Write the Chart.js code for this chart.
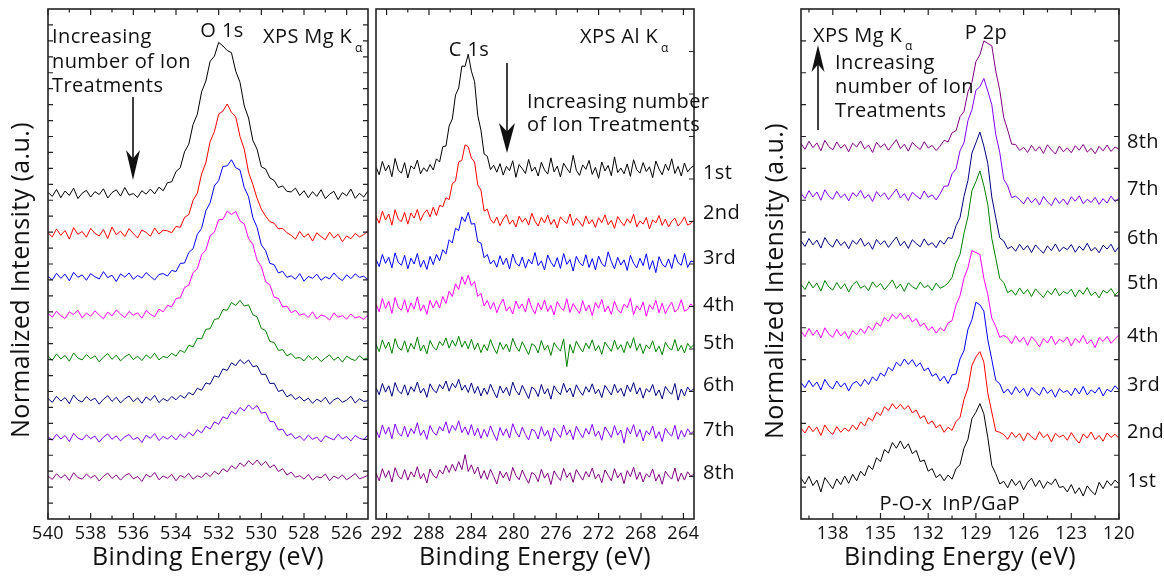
<!DOCTYPE html>
<html>
<head>
<meta charset="utf-8">
<title>XPS spectra after repeated ion treatments</title>
<script src="https://cdn.jsdelivr.net/npm/chart.js@4.4.1/dist/chart.umd.min.js"></script>
<style>
  html, body { margin: 0; padding: 0; background: #fff; }
  #wrap { position: relative; width: 1164px; height: 576px; }
  #wrap canvas { position: absolute; left: 0; top: 0; }
</style>
</head>
<body>
<div id="wrap">
  <canvas id="o1s" width="1164" height="576"></canvas>
  <canvas id="c1s" width="1164" height="576"></canvas>
  <canvas id="p2p" width="1164" height="576"></canvas>
</div>
<script>
// ---- scan grids (binding energy, eV) ----
const o1sStart = 540, o1sStep = 0.2;   // 76 points, 540 -> 525
const c1sStart = 293, c1sStep = 0.3;   // 101 points, 293 -> 263
const p2pStart = 140, p2pStep = 0.25;  // 81 points, 140 -> 120

const treatmentLabels = ['1st', '2nd', '3rd', '4th', '5th', '6th', '7th', '8th'];

// ---- O 1s (Mg Ka), offset spectra ----
const o1s1st = [10.25, 10.12, 10.34, 10.08, 10.29, 10.15, 10.38, 10.05, 10.22, 10.31, 10.10, 10.27, 10.18, 10.36, 10.07, 10.24, 10.33, 10.13, 10.40, 10.16, 10.21, 10.09, 10.30, 10.19, 10.35,
  10.20, 10.41, 10.30, 10.55, 10.58, 10.90, 11.02, 11.52, 11.76, 12.38, 12.70, 13.40, 13.74, 14.36, 14.52, 14.95, 14.84, 14.70, 14.63, 14.05, 13.70, 12.96, 12.58, 11.88, 11.60, 11.05, 10.98, 10.70, 10.62, 10.40, 10.45, 10.28, 10.26, 10.38, 10.15, 10.30,
  10.08, 10.27, 10.12, 10.33, 10.05, 10.19, 10.28, 10.02, 10.24, 10.14, 10.35, 10.06, 10.22, 10.10, 10.30];
const o1s2nd = [8.98, 8.85, 9.10, 8.90, 9.05, 8.78, 9.14, 8.93, 9.02, 8.84, 9.12, 8.96, 8.88, 9.08, 8.80, 9.16, 8.92, 9.03, 8.86, 9.11, 8.95, 8.82, 9.07, 8.99, 8.87, 9.13, 8.94, 9.06,
  9.04, 8.98, 9.18, 9.15, 9.46, 9.55, 10.00, 10.22, 10.83, 11.18, 11.84, 12.15, 12.70, 12.80, 13.02, 12.76, 12.62, 12.00, 11.60, 10.88, 10.50, 10.06, 9.72, 9.50, 9.33, 9.28, 9.10, 9.12, 8.98,
  8.90, 8.78, 9.02, 8.84, 8.95, 8.72, 8.98, 8.86, 8.76, 9.00, 8.82, 8.93, 8.70, 8.88, 8.79, 8.96, 8.85, 8.92, 9.05];
const o1s3rd = [7.62, 7.50, 7.71, 7.55, 7.68, 7.47, 7.74, 7.58, 7.66, 7.49, 7.70, 7.60, 7.53, 7.76, 7.57, 7.65, 7.45, 7.69, 7.59, 7.72, 7.52, 7.64, 7.56, 7.73, 7.61, 7.50, 7.67,
  7.70, 7.62, 7.80, 7.76, 8.02, 8.03, 8.36, 8.48, 8.93, 9.12, 9.67, 9.92, 10.45, 10.62, 11.06, 11.08, 11.27, 11.02, 10.95, 10.40, 10.11, 9.46, 9.15, 8.60, 8.42, 8.02, 7.98, 7.72, 7.77, 7.58,
  7.63, 7.52, 7.70, 7.46, 7.61, 7.55, 7.68, 7.49, 7.60, 7.53, 7.72, 7.57, 7.48, 7.66, 7.54, 7.69, 7.58, 7.62, 7.50];
const o1s4th = [6.45, 6.33, 6.52, 6.38, 6.29, 6.50, 6.41, 6.55, 6.31, 6.46, 6.36, 6.53, 6.40, 6.28, 6.49, 6.37, 6.56, 6.43, 6.32, 6.51, 6.39, 6.47, 6.30, 6.54, 6.42, 6.35,
  6.58, 6.50, 6.70, 6.66, 6.92, 6.94, 7.26, 7.34, 7.73, 7.85, 8.29, 8.44, 8.88, 9.00, 9.39, 9.40, 9.66, 9.55, 9.65, 9.35, 9.26, 8.80, 8.62, 8.12, 7.92, 7.45, 7.34, 6.96, 6.92, 6.65, 6.68, 6.47, 6.55, 6.39,
  6.44, 6.32, 6.50, 6.28, 6.40, 6.36, 6.24, 6.46, 6.33, 6.38, 6.27, 6.43, 6.31, 6.35, 6.26, 6.41];
const o1s5th = [5.10, 4.98, 5.18, 5.02, 5.13, 4.95, 5.21, 5.05, 4.99, 5.16, 5.03, 5.12, 4.93, 5.08, 5.19, 5.01, 5.14, 4.96, 5.09, 5.17, 5.00, 5.11, 4.97, 5.15, 5.04, 5.20, 4.99, 5.10,
  5.06, 5.20, 5.11, 5.30, 5.22, 5.45, 5.40, 5.67, 5.65, 5.95, 5.97, 6.26, 6.29, 6.57, 6.55, 6.79, 6.70, 6.86, 6.68, 6.72, 6.41, 6.34, 5.98, 5.91, 5.57, 5.54, 5.29, 5.31, 5.12, 5.19, 5.04,
  5.07, 4.96, 5.13, 5.00, 5.10, 4.94, 5.05, 5.15, 4.98, 5.08, 4.92, 5.11, 5.02, 4.97, 5.12, 5.01, 5.06];
const o1s6th = [3.78, 3.66, 3.85, 3.70, 3.81, 3.62, 3.89, 3.73, 3.67, 3.84, 3.71, 3.79, 3.60, 3.76, 3.87, 3.69, 3.82, 3.64, 3.77, 3.86, 3.68, 3.80, 3.63, 3.83, 3.72, 3.88, 3.65, 3.78, 3.70, 3.84,
  3.74, 3.88, 3.79, 3.97, 3.89, 4.10, 4.04, 4.27, 4.23, 4.49, 4.45, 4.71, 4.66, 4.90, 4.81, 5.00, 4.87, 4.99, 4.78, 4.81, 4.54, 4.54, 4.25, 4.26, 4.00, 4.05, 3.83, 3.91, 3.75, 3.84,
  3.70, 3.79, 3.63, 3.76, 3.68, 3.82, 3.61, 3.74, 3.80, 3.66, 3.73, 3.85, 3.64, 3.77, 3.69, 3.71];
const o1s7th = [2.58, 2.47, 2.66, 2.51, 2.62, 2.43, 2.69, 2.54, 2.48, 2.64, 2.52, 2.60, 2.41, 2.57, 2.67, 2.50, 2.61, 2.45, 2.58, 2.65, 2.49, 2.56, 2.40, 2.63, 2.53, 2.68, 2.46, 2.59, 2.51, 2.62, 2.48,
  2.66, 2.55, 2.72, 2.61, 2.80, 2.70, 2.91, 2.82, 3.05, 2.97, 3.21, 3.14, 3.38, 3.29, 3.50, 3.39, 3.58, 3.44, 3.56, 3.32, 3.35, 3.06, 3.05, 2.79, 2.82, 2.61, 2.68,
  2.52, 2.60, 2.46, 2.63, 2.50, 2.57, 2.42, 2.61, 2.54, 2.48, 2.66, 2.51, 2.59, 2.45, 2.62, 2.53, 2.49, 2.64];
const o1s8th = [1.35, 1.24, 1.42, 1.28, 1.39, 1.21, 1.45, 1.30, 1.25, 1.41, 1.29, 1.37, 1.19, 1.34, 1.44, 1.27, 1.38, 1.22, 1.36, 1.43, 1.26, 1.33, 1.18, 1.40, 1.31, 1.46, 1.23, 1.35, 1.28, 1.40, 1.20, 1.37, 1.30, 1.43, 1.25, 1.36,
  1.30, 1.45, 1.33, 1.50, 1.40, 1.58, 1.48, 1.67, 1.57, 1.76, 1.65, 1.83, 1.70, 1.85, 1.68, 1.81, 1.61, 1.70, 1.49, 1.58, 1.38, 1.47, 1.31,
  1.36, 1.25, 1.40, 1.22, 1.33, 1.29, 1.41, 1.20, 1.35, 1.27, 1.38, 1.23, 1.32, 1.43, 1.26, 1.31, 1.37];

// ---- C 1s (Al Ka), offset spectra ----
const c1s1st = [11.05, 10.80, 11.22, 10.92, 11.10, 10.74, 11.31, 10.95, 10.85, 11.18, 10.70, 11.08, 10.98, 11.26, 10.83, 11.02, 10.90,
  11.12, 10.95, 11.30, 11.20, 11.68, 11.70, 12.33, 12.55, 13.30, 13.52, 14.21, 14.20, 14.58, 14.05, 13.72, 12.66, 12.20, 11.45, 11.38, 10.96, 11.10,
  10.88, 11.15, 10.79, 11.06, 10.93, 11.24, 10.72, 11.12, 10.99, 10.84, 11.28, 10.91, 11.04, 10.76, 11.19, 10.95, 10.82, 11.33, 10.89, 11.07, 10.73, 11.16, 11.00, 10.86, 11.41, 10.94, 10.78, 11.11, 10.97, 11.25, 10.81, 11.03,
  10.69, 11.20, 10.92, 11.09, 10.77, 11.36, 10.87, 11.01, 10.83, 11.14, 10.75, 11.27, 10.96, 10.85, 11.18, 10.90, 11.05, 10.71, 11.23, 10.98, 10.80, 11.13, 10.93, 11.30, 10.84, 11.06, 10.76, 11.17, 10.89, 11.02, 11.08];
const c1s2nd = [9.50, 9.28, 9.66, 9.38, 9.57, 9.22, 9.70, 9.41, 9.33, 9.62, 9.25, 9.60, 9.44, 9.71, 9.36, 9.58, 9.70, 9.48, 9.78, 9.52, 9.84,
  9.80, 10.08, 10.02, 10.52, 10.60, 11.20, 11.25, 11.74, 11.68, 11.32, 11.20, 10.48, 10.32, 9.66, 9.72, 9.40,
  9.28, 9.47, 9.20, 9.41, 9.55, 9.25, 9.38, 9.16, 9.50, 9.31, 9.44, 9.22, 9.59, 9.34, 9.19, 9.46, 9.29, 9.53, 9.24, 9.40, 9.13, 9.48, 9.36, 9.27, 9.57, 9.21, 9.43, 9.32, 9.18, 9.51, 9.26, 9.39,
  9.15, 9.45, 9.30, 9.54, 9.23, 9.37, 9.12, 9.49, 9.33, 9.20, 9.42, 9.28, 9.56, 9.17, 9.35, 9.25, 9.46, 9.10, 9.38, 9.29, 9.52, 9.21, 9.41, 9.16, 9.34, 9.44, 9.19, 9.31, 9.48, 9.22, 9.27, 9.39];
const c1s3rd = [8.15, 7.92, 8.30, 8.02, 8.21, 7.88, 8.35, 8.05, 7.96, 8.27, 7.85, 8.18, 8.00, 8.33, 7.90, 8.12, 7.83, 8.24, 7.98,
  8.30, 8.10, 8.45, 8.32, 8.76, 8.66, 9.12, 9.05, 9.48, 9.33, 9.62, 9.25, 9.27, 8.70, 8.66, 8.20, 8.30, 8.00,
  8.12, 7.90, 8.26, 7.98, 8.19, 7.84, 8.31, 8.03, 7.93, 8.22, 7.87, 8.15, 8.00, 8.36, 7.95, 8.10, 7.81, 8.28, 8.06, 7.91, 8.20, 7.86, 8.33, 7.99, 8.14, 7.78, 8.24, 8.04, 7.94, 8.29, 7.89, 8.17,
  7.82, 8.25, 8.01, 7.92, 8.38, 8.08, 7.85, 8.21, 7.97, 8.13, 7.80, 8.27, 8.02, 7.88, 8.18, 7.95, 8.32, 7.83, 8.11, 7.73, 8.23, 8.00, 7.90, 8.16, 7.86, 8.30, 8.04, 7.96, 8.34, 7.89, 8.09, 8.07];
const c1s4th = [6.75, 6.50, 6.92, 6.60, 6.83, 6.45, 6.95, 6.64, 6.55, 6.88, 6.48, 6.78, 6.58, 6.97, 6.52, 6.72, 6.42, 6.86, 6.62,
  6.85, 6.62, 6.98, 6.76, 7.15, 6.98, 7.38, 7.20, 7.60, 7.36, 7.65, 7.32, 7.45, 6.98, 7.08, 6.68, 6.86,
  6.58, 6.80, 6.47, 6.73, 6.90, 6.52, 6.66, 6.43, 6.84, 6.60, 6.75, 6.49, 6.93, 6.62, 6.44, 6.78, 6.56, 6.87, 6.51, 6.70, 6.40, 6.82, 6.64, 6.54, 6.91, 6.48, 6.76, 6.59, 6.45, 6.85, 6.53, 6.71,
  6.38, 6.79, 6.61, 6.89, 6.50, 6.68, 6.42, 6.83, 6.57, 6.46, 6.74, 6.63, 6.92, 6.41, 6.69, 6.55, 6.81, 6.36, 6.72, 6.58, 6.86, 6.47, 6.77, 6.44, 6.65, 6.80, 6.49, 6.60, 6.88, 6.52, 6.57, 6.75, 6.62];
const c1s5th = [5.48, 5.25, 5.62, 5.35, 5.55, 5.20, 5.66, 5.38, 5.29, 5.59, 5.23, 5.51, 5.33, 5.70, 5.27, 5.46, 5.18, 5.60, 5.40, 5.30,
  5.57, 5.44, 5.68, 5.36, 5.61, 5.42, 5.73, 5.39, 5.58, 5.34, 5.64, 5.31, 5.52, 5.22, 5.47, 5.28, 5.63, 5.37, 5.19, 5.54,
  5.32, 5.49, 5.24, 5.67, 5.41, 5.26, 5.56, 5.36, 5.16, 5.50, 5.43, 5.21, 5.60, 5.30, 5.45, 5.13, 5.53, 5.38, 5.27, 5.65,
  4.78, 5.48, 5.20, 5.58, 5.39, 5.24, 5.52, 5.35, 5.62, 5.28, 5.44, 5.17, 5.55, 5.40, 5.26, 5.61, 5.32, 5.47, 5.22, 5.57,
  5.36, 5.69, 5.29, 5.50, 5.19, 5.46, 5.34, 5.59, 5.25, 5.42, 5.15, 5.54, 5.38, 5.30, 5.63, 5.27, 5.45, 5.21, 5.51, 5.37, 5.48];
const c1s6th = [4.12, 3.90, 4.25, 3.98, 4.18, 3.85, 4.28, 4.02, 3.93, 4.21, 3.88, 4.15, 4.00, 4.30, 3.95, 4.10, 3.82, 4.24, 4.05, 3.96,
  4.22, 4.08, 4.33, 4.01, 4.26, 4.12, 4.38, 4.04, 4.20, 3.97, 4.27, 3.94, 4.16, 3.86, 4.11, 3.91, 4.23, 4.00, 3.80, 4.17,
  3.95, 4.13, 3.87, 4.29, 4.03, 3.89, 4.19, 3.99, 3.78, 4.14, 4.06, 3.84, 4.22, 3.92, 4.09, 3.76, 4.18, 4.01, 3.90, 4.26,
  3.97, 4.11, 3.83, 4.21, 4.02, 3.88, 4.15, 3.98, 4.24, 3.93, 4.07, 3.81, 4.19, 4.04, 3.89, 4.23, 3.96, 4.10, 3.85, 4.20,
  3.99, 4.28, 3.92, 4.12, 3.79, 4.09, 3.98, 4.22, 3.87, 4.05, 3.77, 4.16, 4.01, 3.91, 4.25, 3.73, 4.08, 3.86, 4.14, 4.00, 4.10];
const c1s7th = [2.80, 2.55, 2.95, 2.66, 2.88, 2.52, 2.98, 2.70, 2.60, 2.91, 2.57, 2.84, 2.68, 3.02, 2.62, 2.79, 2.50, 2.93, 2.72, 2.63,
  2.90, 2.76, 3.05, 2.69, 2.94, 2.78, 3.08, 2.71, 2.89, 2.64, 2.96, 2.61, 2.85, 2.53, 2.81, 2.58, 2.92, 2.67, 2.46, 2.87,
  2.62, 2.83, 2.54, 2.99, 2.73, 2.57, 2.88, 2.65, 2.48, 2.82, 2.75, 2.51, 2.90, 2.60, 2.78, 2.44, 2.86, 2.70, 2.56, 2.95,
  2.64, 2.80, 2.49, 2.91, 2.71, 2.55, 2.84, 2.66, 2.97, 2.59, 2.76, 2.47, 2.89, 2.73, 2.56, 2.93, 2.63, 2.79, 2.38, 2.87,
  2.67, 2.96, 2.58, 2.81, 2.45, 2.77, 2.65, 2.92, 2.53, 2.74, 2.43, 2.85, 2.69, 2.60, 2.94, 2.50, 2.78, 2.57, 2.83, 2.68, 2.76];
const c1s8th = [1.44, 1.20, 1.58, 1.30, 1.52, 1.16, 1.61, 1.35, 1.25, 1.55, 1.22, 1.48, 1.32, 1.64, 1.26, 1.43, 1.13, 1.57, 1.37, 1.28,
  1.54, 1.41, 1.68, 1.46, 1.72, 1.50, 1.80, 1.55, 2.02, 1.49, 1.70, 1.42, 1.63, 1.27, 1.52, 1.24, 1.56, 1.33, 1.10, 1.50,
  1.29, 1.47, 1.19, 1.62, 1.36, 1.23, 1.53, 1.31, 1.12, 1.46, 1.39, 1.17, 1.56, 1.28, 1.44, 1.08, 1.51, 1.34, 1.21, 1.59,
  1.30, 1.45, 1.15, 1.55, 1.38, 1.22, 1.49, 1.32, 1.60, 1.26, 1.41, 1.14, 1.54, 1.37, 1.20, 1.58, 1.29, 1.45, 1.11, 1.52,
  1.33, 1.62, 1.24, 1.47, 1.16, 1.42, 1.31, 1.57, 1.19, 1.40, 1.09, 1.50, 1.35, 1.25, 1.60, 1.18, 1.44, 1.22, 1.48, 1.34, 1.41];

// ---- P 2p (Mg Ka), offset spectra ----
const p2p1st = [1.28, 1.10, 1.34, 1.05, 1.22, 0.85, 1.30, 1.12, 0.95, 1.26, 1.08, 1.35, 1.12, 1.40, 1.20, 1.50, 1.35, 1.68, 1.55, 1.92, 1.80, 2.18, 2.07, 2.40, 2.22, 2.45,
  2.20, 2.36, 2.05, 2.15, 1.80, 1.85, 1.50, 1.58, 1.30, 1.40, 1.20, 1.38, 1.25, 1.58, 1.70, 2.22, 2.50, 3.15, 3.35, 3.62, 3.30, 2.55, 1.68, 1.42, 1.10,
  1.18, 0.98, 1.25, 1.05, 1.20, 0.92, 1.15, 1.28, 1.02, 1.22, 0.96, 1.17, 1.08, 1.26, 0.99,
  1.02, 0.85, 1.08, 0.80, 0.98, 0.72, 1.04, 0.88, 0.76, 1.15, 0.95, 1.20, 1.05, 1.22, 1.10];
const p2p2nd = [2.85, 2.70, 2.92, 2.74, 2.88, 2.62, 2.95, 2.76, 2.65, 2.90, 2.72, 2.86,
  2.75, 2.95, 2.80, 3.05, 2.92, 3.18, 3.08, 3.35, 3.25, 3.52, 3.40, 3.62, 3.45, 3.60, 3.44, 3.56, 3.33, 3.42, 3.16, 3.24, 2.98, 3.08, 2.86, 2.96,
  2.72, 2.88, 2.78, 3.06, 3.18, 3.75, 4.10, 4.82, 5.08, 5.25, 4.92, 3.95, 3.35, 2.76, 2.72,
  2.65, 2.50, 2.72, 2.56, 2.68, 2.45, 2.70, 2.58, 2.48, 2.74, 2.55, 2.66, 2.42, 2.69, 2.57, 2.63, 2.47, 2.71, 2.52, 2.38, 2.67, 2.54, 2.73, 2.49, 2.62, 2.44, 2.70, 2.56, 2.66, 2.53];
const p2p3rd = [4.28, 4.12, 4.35, 4.15, 4.30, 4.05, 4.38, 4.18, 4.08, 4.33, 4.14, 4.27, 4.02, 4.25,
  4.32, 4.16, 4.38, 4.22, 4.46, 4.33, 4.58, 4.48, 4.76, 4.65, 4.92, 4.80, 5.02, 4.85, 5.00, 4.78, 4.90, 4.65, 4.74, 4.48, 4.56, 4.33, 4.48,
  4.25, 4.52, 4.55, 5.02, 5.28, 5.95, 6.25, 6.80, 6.72, 6.52, 5.62, 5.00, 4.35, 4.24, 3.95,
  4.08, 3.90, 4.15, 3.96, 4.10, 3.85, 4.12, 3.98, 3.88, 4.14, 3.94, 4.06, 3.82, 4.09, 3.97, 4.03, 3.87, 4.11, 3.92, 4.16, 3.89, 4.05, 3.95, 4.13, 3.86, 4.07, 3.99, 4.18, 4.04];
const p2p4th = [5.90, 5.72, 5.98, 5.76, 5.93, 5.68, 6.00, 5.80, 5.70, 5.95, 5.74, 5.88, 5.66, 5.91,
  5.78, 5.97, 5.82, 6.05, 5.92, 6.16, 6.05, 6.32, 6.20, 6.42, 6.28, 6.46, 6.27, 6.40, 6.18, 6.29, 6.05, 6.14, 5.92, 6.03, 5.83, 6.00, 5.90,
  6.15, 6.22, 6.72, 7.00, 7.56, 7.88, 8.42, 8.36, 8.30, 7.55, 7.04, 6.30, 6.04, 5.70, 5.76,
  5.68, 5.50, 5.75, 5.55, 5.70, 5.45, 5.72, 5.58, 5.40, 5.66, 5.52, 5.74, 5.47, 5.64, 5.56, 5.71, 5.43, 5.67, 5.53, 5.76, 5.49, 5.62, 5.38, 5.69, 5.57, 5.73, 5.51, 5.65, 5.78];
const p2p5th = [7.36, 7.20, 7.45, 7.25, 7.40, 7.15, 7.48, 7.28, 7.18, 7.42, 7.22, 7.38, 7.12, 7.35, 7.46, 7.24, 7.32, 7.16, 7.44, 7.27, 7.39, 7.19, 7.34, 7.50, 7.23, 7.37, 7.14, 7.41, 7.29, 7.21, 7.43, 7.26, 7.33, 7.17, 7.40, 7.24,
  7.30, 7.40, 7.58, 8.02, 8.30, 8.96, 9.48, 10.30, 10.58, 10.92, 10.46, 9.86, 8.80, 8.18, 7.55, 7.42, 7.10,
  7.18, 7.02, 7.25, 7.06, 7.20, 6.98, 7.22, 7.08, 6.95, 7.16, 7.04, 7.24, 7.00, 7.14, 7.07, 7.21, 6.97, 7.19, 7.05, 7.26, 7.01, 7.12, 6.94, 7.17, 7.09, 7.23, 7.03, 7.15];
const p2p6th = [8.72, 8.55, 8.80, 8.60, 8.75, 8.50, 8.83, 8.63, 8.53, 8.78, 8.58, 8.70, 8.48, 8.74, 8.62, 8.81, 8.56, 8.68, 8.46, 8.77, 8.61, 8.73, 8.52, 8.69, 8.85, 8.57, 8.71, 8.49, 8.76, 8.64, 8.54, 8.79, 8.59, 8.67, 8.51, 8.74,
  8.62, 8.83, 8.80, 9.20, 9.45, 10.12, 10.62, 11.48, 11.80, 12.14, 11.70, 11.15, 10.10, 9.45, 8.82, 8.72, 8.48,
  8.55, 8.40, 8.62, 8.44, 8.58, 8.36, 8.60, 8.46, 8.34, 8.57, 8.42, 8.63, 8.39, 8.53, 8.45, 8.61, 8.37, 8.56, 8.43, 8.65, 8.41, 8.52, 8.35, 8.59, 8.47, 8.62, 8.38, 8.54];
const p2p7th = [10.22, 10.05, 10.30, 10.10, 10.26, 10.00, 10.33, 10.13, 10.03, 10.28, 10.08, 10.20, 9.98, 10.24, 10.12, 10.31, 10.06, 10.18, 9.96, 10.27, 10.11, 10.23, 10.02, 10.19, 10.35, 10.07, 10.21, 9.99, 10.25, 10.14, 10.04, 10.29, 10.09, 10.17, 10.01,
  10.20, 10.44, 10.45, 10.83, 10.98, 11.55, 11.80, 12.50, 12.84, 13.45, 13.56, 13.82, 13.42, 13.00, 12.06, 11.50, 10.66, 10.45, 10.08, 10.13,
  10.02, 9.88, 10.10, 9.92, 10.06, 9.85, 10.12, 9.95, 9.83, 10.08, 9.90, 10.04, 9.86, 10.11, 9.97, 10.14, 9.89, 10.03, 9.93, 10.09, 9.87, 10.05, 9.91, 10.13, 9.96, 10.07];
const p2p8th = [11.78, 11.60, 11.85, 11.65, 11.80, 11.55, 11.88, 11.68, 11.58, 11.83, 11.63, 11.75, 11.52, 11.79, 11.67, 11.86, 11.61, 11.73, 11.50, 11.82, 11.66, 11.77, 11.57, 11.74, 11.90, 11.62, 11.76, 11.54, 11.81, 11.69, 11.59, 11.84, 11.64, 11.72, 11.56,
  11.70, 11.88, 11.83, 12.12, 12.18, 12.62, 12.78, 13.40, 13.70, 14.35, 14.56, 15.00, 14.92, 14.85, 14.05, 13.45, 12.60, 12.20, 11.76, 11.75, 11.56,
  11.66, 11.50, 11.72, 11.54, 11.68, 11.47, 11.74, 11.58, 11.45, 11.70, 11.52, 11.64, 11.49, 11.71, 11.57, 11.75, 11.51, 11.63, 11.46, 11.69, 11.55, 11.73, 11.53, 11.67, 11.60];

// ---- axis ticks ----
const o1sTicks = [540, 538, 536, 534, 532, 530, 528, 526];
const o1sMinor = [539, 537, 535, 533, 531, 529, 527];
const c1sTicks = [292, 288, 284, 280, 276, 272, 268, 264];
const c1sMinor = [290, 286, 282, 278, 274, 270, 266];
const p2pTicks = [138, 135, 132, 129, 126, 123, 120];
const p2pMinor = [139.5, 136.5, 133.5, 130.5, 127.5, 124.5, 121.5];

const traceColors = ['#000000', '#ff0000', '#0000ff', '#ff00ff', '#008000', '#000080', '#8000ff', '#800080'];
const INK = '#111111';
const FONT = '"Open Sans", "DejaVu Sans", sans-serif';
Chart.defaults.font.family = FONT;
Chart.defaults.color = INK;

// frame, inward ticks, annotations and arrows for one panel
function decor(cfg) {
  return {
    id: 'decor',
    beforeDraw(chart) {
      // the lettering in this figure is slightly tracked out
      chart.ctx.letterSpacing = '0.4px';
    },
    afterDraw(chart) {
      const { ctx, chartArea: a } = chart;
      const x = chart.scales.x, y = chart.scales.y;
      ctx.save();
      ctx.strokeStyle = '#222';
      ctx.lineWidth = 1.2;
      ctx.beginPath();
      const xTick = (v, len) => {
        const px = x.getPixelForValue(v);
        ctx.moveTo(px, a.bottom); ctx.lineTo(px, a.bottom - len);
        ctx.moveTo(px, a.top); ctx.lineTo(px, a.top + len);
      };
      cfg.majorTicks.forEach(v => xTick(v, 6));
      cfg.minorTicks.forEach(v => xTick(v, 3.5));
      cfg.yTicks.forEach(v => {
        const py = y.getPixelForValue(v);
        if (cfg.leftTicks) { ctx.moveTo(a.left, py); ctx.lineTo(a.left + 5, py); }
        ctx.moveTo(a.right, py); ctx.lineTo(a.right - 5, py);
      });
      ctx.stroke();
      ctx.lineWidth = 1.6;
      ctx.strokeRect(a.left, a.top, a.right - a.left, a.bottom - a.top);

      ctx.fillStyle = INK;
      ctx.letterSpacing = '0.4px';
      ctx.textBaseline = 'alphabetic';
      cfg.notes.forEach(n => {
        ctx.font = (n.size || 20) + 'px ' + FONT;
        ctx.textAlign = n.align || 'left';
        ctx.fillText(n.text, n.x, n.y);
      });

      if (cfg.rowY) {
        ctx.font = '20px ' + FONT;
        ctx.textAlign = 'left';
        ctx.textBaseline = 'middle';
        treatmentLabels.forEach((t, i) => ctx.fillText(t, cfg.rowX, cfg.rowY[i]));
      }

      if (cfg.yTitle) {
        ctx.save();
        ctx.translate(cfg.yTitle.x, cfg.yTitle.y);
        ctx.rotate(-Math.PI / 2);
        ctx.font = '25px ' + FONT;
        ctx.textAlign = 'center';
        ctx.textBaseline = 'middle';
        ctx.fillText('Normalized Intensity (a.u.)', 0, 0);
        ctx.restore();
      }

      const ar = cfg.arrow;
      if (ar) {
        const dir = Math.sign(ar.tip - ar.tail);
        ctx.strokeStyle = INK;
        ctx.lineWidth = 1.6;
        ctx.beginPath();
        ctx.moveTo(ar.x, ar.tail);
        ctx.lineTo(ar.x, ar.tip - dir * ar.head * 0.7);
        ctx.stroke();
        ctx.beginPath();
        ctx.moveTo(ar.x, ar.tip);
        ctx.lineTo(ar.x - ar.half, ar.tip - dir * ar.head);
        ctx.lineTo(ar.x, ar.tip - dir * ar.head * 0.72);
        ctx.lineTo(ar.x + ar.half, ar.tip - dir * ar.head);
        ctx.closePath();
        ctx.fill();
      }
      ctx.restore();
    }
  };
}

function makePanel(id, cfg) {
  return new Chart(document.getElementById(id), {
    type: 'line',
    data: {
      datasets: cfg.series.map((vals, i) => ({
        label: treatmentLabels[i],
        data: vals.map((v, k) => ({ x: cfg.start - cfg.step * k, y: v })),
        borderColor: traceColors[i],
        borderWidth: 1,
        pointRadius: 0,
        tension: 0
      }))
    },
    options: {
      responsive: false,
      animation: false,
      devicePixelRatio: 1,
      layout: { padding: { left: cfg.left, right: 1164 - cfg.right, top: 9, bottom: 0 } },
      plugins: { legend: { display: false }, tooltip: { enabled: false } },
      scales: {
        x: {
          type: 'linear',
          reverse: true,
          min: cfg.min,
          max: cfg.max,
          grid: { display: false, drawTicks: false },
          border: { display: false },
          afterBuildTicks: axis => { axis.ticks = cfg.majorTicks.map(value => ({ value })); },
          afterFit: axis => { axis.height = 57; },
          ticks: {
            autoSkip: false, maxRotation: 0, padding: 4, color: INK,
            font: { size: 18 },
            callback: v => String(v)
          },
          title: {
            display: true, text: 'Binding Energy (eV)', color: INK,
            font: { size: 25 }, padding: { top: 0, bottom: 3 }
          }
        },
        y: { display: false, min: 0, max: 16 }
      }
    },
    plugins: [decor(cfg)]
  });
}

makePanel('o1s', {
  series: [o1s1st, o1s2nd, o1s3rd, o1s4th, o1s5th, o1s6th, o1s7th, o1s8th],
  start: o1sStart, step: o1sStep, min: 525, max: 540,
  left: 48, right: 368,
  majorTicks: o1sTicks, minorTicks: o1sMinor,
  yTicks: Array.from({ length: 31 }, (_, k) => 0.5 * (k + 1)), leftTicks: true,
  yTitle: { x: 22, y: 280 },
  notes: [
    { text: 'Increasing', x: 52, y: 43 },
    { text: 'number of Ion', x: 52, y: 68 },
    { text: 'Treatments', x: 52, y: 92 },
    { text: 'O 1s', x: 222, y: 37, align: 'center' },
    { text: 'XPS Mg K', x: 263, y: 43 },
    { text: 'α', x: 355, y: 52, size: 12 }
  ],
  arrow: { x: 133, tail: 97, tip: 180, head: 30, half: 7 }
});

makePanel('c1s', {
  series: [c1s1st, c1s2nd, c1s3rd, c1s4th, c1s5th, c1s6th, c1s7th, c1s8th],
  start: c1sStart, step: c1sStep, min: 263, max: 293,
  left: 376, right: 694,
  majorTicks: c1sTicks, minorTicks: c1sMinor,
  yTicks: Array.from({ length: 11 }, (_, k) => 16 - (4 / 3) * (k + 1)), leftTicks: false,
  rowX: 703, rowY: [173, 213, 258, 305, 343, 385, 430, 473],
  notes: [
    { text: 'C 1s', x: 469, y: 56, align: 'center' },
    { text: 'XPS Al K', x: 580, y: 43 },
    { text: 'α', x: 661, y: 52, size: 12 },
    { text: 'Increasing number', x: 527, y: 108 },
    { text: 'of Ion Treatments', x: 527, y: 131 }
  ],
  arrow: { x: 507, tail: 63, tip: 153, head: 30, half: 8 }
});

makePanel('p2p', {
  series: [p2p1st, p2p2nd, p2p3rd, p2p4th, p2p5th, p2p6th, p2p7th, p2p8th],
  start: p2pStart, step: p2pStep, min: 120, max: 140,
  left: 801, right: 1119,
  majorTicks: p2pTicks, minorTicks: p2pMinor,
  yTicks: Array.from({ length: 15 }, (_, k) => k + 1), leftTicks: true,
  yTitle: { x: 776, y: 281 },
  rowX: 1127, rowY: [481, 432, 385, 336, 283, 238, 189, 142],
  notes: [
    { text: 'XPS Mg K', x: 813, y: 42 },
    { text: 'α', x: 905, y: 50, size: 12 },
    { text: 'P 2p', x: 986, y: 39, align: 'center' },
    { text: 'Increasing', x: 835, y: 69 },
    { text: 'number of Ion', x: 835, y: 93 },
    { text: 'Treatments', x: 835, y: 117 },
    { text: 'P-O-x', x: 906, y: 510, align: 'center' },
    { text: 'InP/GaP', x: 981, y: 510, align: 'center' }
  ],
  arrow: { x: 818, tail: 130, tip: 45, head: 27, half: 6.5 }
});
</script>
</body>
</html>
